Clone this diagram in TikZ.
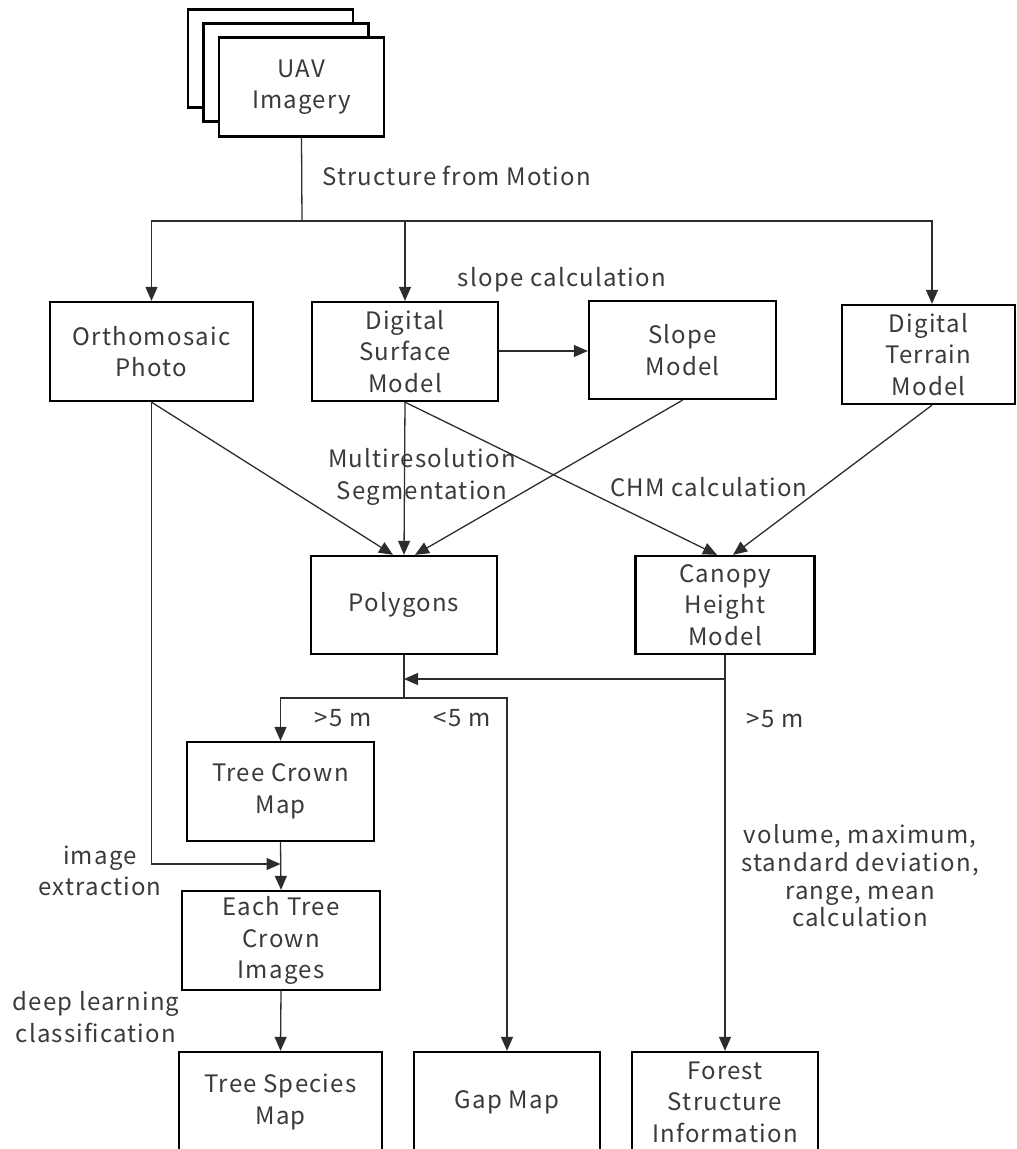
\documentclass[tikz,border=0pt]{standalone}
\usepackage{fontspec}
\setmainfont{Noto Sans CJK JP}[LetterSpace=5]
\usetikzlibrary{arrows.meta}
\definecolor{txt}{RGB}{58,58,58}
\definecolor{ln}{RGB}{45,45,45}
\newcommand\boxfont{\fontsize{24}{31.5}\selectfont}
\newcommand\notefont{\fontsize{24}{27.7}\selectfont}
\begin{document}
\begin{tikzpicture}[x=1pt,y=-1pt,
  box/.style={draw=black, line width=2.3pt, fill=white, rectangle, inner sep=0pt,
    align=center, text=txt, font=\boxfont},
  lbl/.style={inner sep=0pt, align=center, text=txt, font=\boxfont},
  conn/.style={draw=ln, line width=1.3pt},
  arr/.style={conn, -{Triangle[width=12pt,length=14pt]}}]
\useasboundingbox (0,0) rectangle (1017,1149);

% stacked image sheets
\node[box, minimum width=165, minimum height=98] (uavb) at (270.5,58.5) {};
\node[box, minimum width=165, minimum height=98] (uavm) at (286,72.5) {};
\node[box, minimum width=165, minimum height=99] (uav) at (301.5,87) {UAV\\Imagery};

% products of photogrammetry
\node[box, minimum width=203, minimum height=99] (ortho) at (151.5,351.5) {Orthomosaic\\Photo};
\node[box, minimum width=186, minimum height=99] (dsm) at (405,351.5) {Digital\\Surface\\Model};
\node[box, minimum width=187, minimum height=98] (slope) at (682.5,350) {Slope\\Model};
\node[box, minimum width=173, minimum height=99] (dtm) at (928.5,354.5) {Digital\\Terrain\\Model};

% intermediate layers
\node[box, minimum width=186, minimum height=98] (poly) at (404,605) {Polygons};
\node[box, minimum width=179, minimum height=98] (chm) at (725,605) {Canopy\\Height\\Model};
\node[box, minimum width=187, minimum height=99] (crown) at (280.5,791.5) {Tree Crown\\Map};
\node[box, minimum width=198, minimum height=99] (each) at (281,940.5) {Each Tree\\Crown\\Images};

% outputs
\node[box, minimum width=203, minimum height=100] (species) at (280.5,1102) {Tree Species\\Map};
\node[box, minimum width=186, minimum height=100] (gap) at (507,1102) {Gap Map};
\node[box, minimum width=186, minimum height=100] (forest) at (725,1102) {Forest\\Structure\\Information};

% Structure from Motion split
\coordinate (sfm) at (302,221);
\draw[conn] (uav.south) -- (sfm);
\draw[arr] (sfm) -| (ortho.north);
\draw[arr] (sfm) -| (dsm.north);
\draw[arr] (sfm) -| ([xshift=3.5pt]dtm.north);
\node[lbl, anchor=west] (sfmlbl) at (322,176) {Structure from Motion};

% slope calculation
\draw[arr] (dsm.east |- 0,351) -- (slope.west |- 0,351);
\node[lbl] (slopelbl) at (562,280) {slope calculation};

% segmentation inputs
\draw[arr] (ortho.south) -- ([xshift=-11pt]poly.north);
\draw[arr] (dsm.south) -- (poly.north);
\draw[arr] (slope.south) -- ([xshift=11pt]poly.north);
\node[lbl] (seglbl) at (422,477) {Multiresolution\\Segmentation};

% canopy height inputs
\draw[arr] (dsm.south) -- ([xshift=-8pt]chm.north);
\draw[arr] ([xshift=3.5pt]dtm.south) -- ([xshift=8pt]chm.north);
\node[lbl] (chmlbl) at (709,487) {CHM calculation};

% height threshold
\coordinate (hjoin) at (725,679);
\coordinate (split) at (404,698);
\draw[arr] (chm.south) -- (forest.north);
\draw[arr] (hjoin) -- (poly.south |- hjoin);
\draw[conn] (poly.south) -- (split);
\draw[arr] (split) -| (crown.north);
\draw[arr] (split) -| (gap.north);
\node[lbl] (gt1) at (343,718) {>5 m};
\node[lbl] (lt1) at (462,718) {<5 m};
\node[lbl] (gt2) at (775,719) {>5 m};

% image extraction
\coordinate (ex) at (crown.south |- 0,864);
\draw[arr] (ortho.south) |- (ex);
\draw[arr] (crown.south) -- (each.north);
\node[lbl] (exlbl) at (100,871) {image\\extraction};

% classification
\draw[arr] (each.south) -- (species.north);
\node[lbl] (dllbl) at (96,1017) {deep learning\\classification};

% forest structure statistics
\node[lbl, font=\notefont] (statlbl) at (860,876) {volume, maximum,\\standard deviation,\\range, mean\\calculation};
\end{tikzpicture}
\end{document}
